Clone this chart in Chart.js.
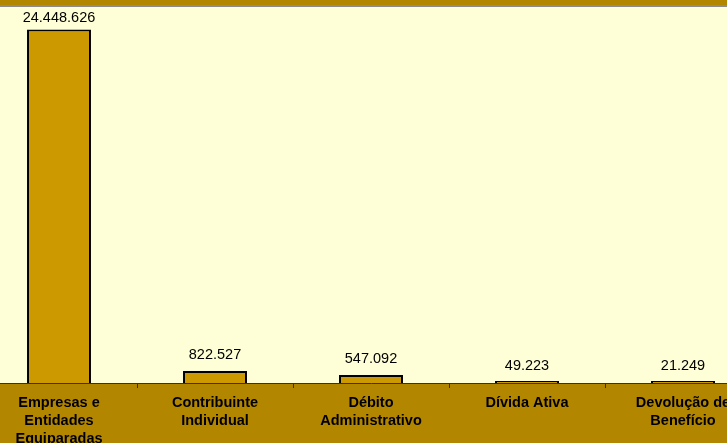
<!DOCTYPE html>
<html>
<head>
<meta charset="utf-8">
<script src="https://cdn.jsdelivr.net/npm/chart.js@4.4.1/dist/chart.umd.min.js"></script>
<style>
  html, body { margin: 0; padding: 0; overflow: hidden; width: 727px; height: 443px; background: #B38600; }
  #wrap { position: absolute; left: -19px; top: 0; width: 780px; height: 443px; }
</style>
</head>
<body>
<div id="wrap"><canvas id="chart"></canvas></div>
<script>
// categories and values
const categories = [
    ['Empresas e', 'Entidades', 'Equiparadas'],
    ['Contribuinte', 'Individual'],
    ['Débito', 'Administrativo'],
    ['Dívida Ativa'],
    ['Devolução de', 'Benefício']
];
const values = [24448626, 822527, 547092, 49223, 21249];
const yMax = 26000000;

// 24448626 -> "24.448.626"
function fmt(n) {
    return String(n).replace(/\B(?=(\d{3})+(?!\d))/g, '.');
}

// bands behind the plot: gold top strip, gray rule, cream plot, gold bottom band
const background = {
    id: 'background',
    beforeDraw(chart) {
        const ctx = chart.ctx;
        const a = chart.chartArea;
        ctx.save();
        ctx.fillStyle = '#B38600';
        ctx.fillRect(0, 0, chart.width, chart.height);
        ctx.fillStyle = '#8C8C8C';
        ctx.fillRect(0, 5, chart.width, 2);
        ctx.fillStyle = '#FFFFD7';
        ctx.fillRect(0, a.top, chart.width, a.bottom - a.top);
        ctx.restore();
    }
};

// value labels above each bar (kept inside the plot at the top)
const valueLabels = {
    id: 'valueLabels',
    afterDatasetsDraw(chart) {
        const ctx = chart.ctx;
        const meta = chart.getDatasetMeta(0);
        const a = chart.chartArea;
        const yScale = chart.scales.y;
        ctx.save();
        ctx.font = '14.5px "Liberation Sans", Arial, sans-serif';
        ctx.fillStyle = '#000';
        ctx.textAlign = 'center';
        ctx.textBaseline = 'middle';
        meta.data.forEach((bar, i) => {
            const top = yScale.getPixelForValue(values[i]);
            const y = Math.max(top - 16.5, a.top + 10.5);
            ctx.fillText(fmt(values[i]), bar.x, y);
        });
        ctx.restore();
    }
};

new Chart(document.getElementById('chart'), {
    type: 'bar',
    data: {
        labels: categories,
        datasets: [{
            data: values,
            backgroundColor: '#CC9900',
            borderColor: '#000',
            borderWidth: 2,
            minBarLength: 2,
            barPercentage: 0.41,
            categoryPercentage: 1
        }]
    },
    options: {
        responsive: true,
        maintainAspectRatio: false,
        animation: false,
        layout: { padding: { top: 7, left: 0, right: 0, bottom: 0 } },
        plugins: {
            legend: { display: false },
            tooltip: { enabled: false }
        },
        scales: {
            y: { display: false, min: 0, max: yMax },
            x: {
                border: { display: true, color: '#333', width: 1 },
                grid: {
                    offset: true,
                    drawOnChartArea: false,
                    drawTicks: true,
                    tickLength: 5,
                    color: '#333'
                },
                ticks: {
                    color: '#000',
                    padding: 6,
                    maxRotation: 0,
                    autoSkip: false,
                    font: { family: '"Liberation Sans", Arial, sans-serif', size: 14.5, weight: 'bold', lineHeight: 1.23 }
                },
                afterFit(scale) { scale.height = 60; }
            }
        }
    },
    plugins: [background, valueLabels]
});
</script>
</body>
</html>
